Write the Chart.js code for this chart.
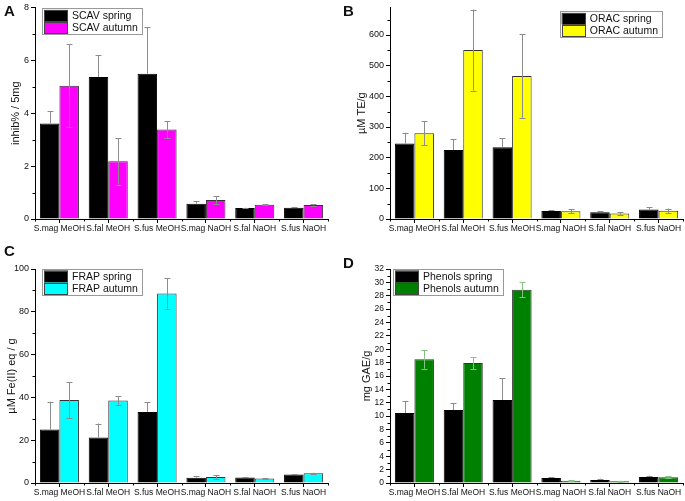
<!DOCTYPE html>
<html>
<head>
<meta charset="utf-8">
<script src="https://cdn.jsdelivr.net/npm/chart.js@4.4.1/dist/chart.umd.min.js"></script>
<style>
  html, body { margin: 0; padding: 0; background: #fff; }
  #wrap { position: relative; width: 685px; height: 501px; overflow: hidden; }
  canvas { position: absolute; }
  .letter { position: absolute; font: bold 15px Arial, "Liberation Sans", sans-serif; color: #111; }
</style>
</head>
<body>
<div id="wrap">
  <canvas id="cA" width="342" height="250" style="left:0;top:0"></canvas>
  <canvas id="cB" width="343" height="250" style="left:342px;top:0"></canvas>
  <canvas id="cC" width="342" height="251" style="left:0;top:250px"></canvas>
  <canvas id="cD" width="343" height="251" style="left:342px;top:250px"></canvas>
  <div class="letter" style="left:4px;top:2px">A</div>
  <div class="letter" style="left:343px;top:2px">B</div>
  <div class="letter" style="left:4px;top:242px">C</div>
  <div class="letter" style="left:343px;top:254px">D</div>
</div>
<script>
// categories shared by all four panels
const categories = ['S.mag MeOH', 'S.fal MeOH', 'S.fus MeOH', 'S.mag NaOH', 'S.fal NaOH', 'S.fus NaOH'];

// A - SCAV
const scavSpring = [3.61, 5.37, 5.49, 0.58, 0.42, 0.43];
const scavSpringErr = [0.46, 0.83, 1.76, 0.09, 0.01, 0.03];
const scavAutumn = [5.04, 2.18, 3.38, 0.72, 0.54, 0.53];
const scavAutumnErr = [1.56, 0.88, 0.32, 0.14, 0.02, 0.02];
const scavTicks = [0, 2, 4, 6, 8];

// B - ORAC
const oracSpring = [246, 225, 234, 26, 22, 31];
const oracSpringErr = [35, 35, 30, 2, 3, 7];
const oracAutumn = [280, 551, 466, 25, 18, 27];
const oracAutumnErr = [39, 132, 136, 7, 4, 7];
const oracTicks = [0, 100, 200, 300, 400, 500, 600];

// C - FRAP
const frapSpring = [25.0, 21.3, 33.2, 2.5, 2.6, 4.0];
const frapSpringErr = [13, 6.5, 4.5, 0.6, 0.1, 0.2];
const frapAutumn = [38.8, 38.6, 88.5, 2.8, 2.1, 4.5];
const frapAutumnErr = [8.4, 2.0, 7.2, 0.8, 0.3, 0.3];
const frapTicks = [0, 20, 40, 60, 80, 100];

// D - total phenols
const phenSpring = [10.45, 10.9, 12.4, 0.75, 0.45, 0.9];
const phenSpringErr = [1.75, 1.0, 3.3, 0.1, 0.2, 0.2];
const phenAutumn = [18.5, 17.95, 28.9, 0.35, 0.25, 0.85];
const phenAutumnErr = [1.4, 0.9, 1.15, 0.05, 0.1, 0.15];
const phenTicks = [0, 2, 4, 6, 8, 10, 12, 14, 16, 18, 20, 22, 24, 26, 28, 30, 32];

const FONT = 'Arial, "Liberation Sans", sans-serif';

// error bars, minor ticks and the boxed legend inside the plot
const decor = {
  id: 'decor',
  afterDatasetsDraw(chart) {
    const ctx = chart.ctx;
    const y = chart.scales.y;
    ctx.save();
    ctx.lineWidth = 1;
    chart.data.datasets.forEach((ds, i) => {
      const meta = chart.getDatasetMeta(i);
      meta.data.forEach((bar, j) => {
        const v = ds.data[j], e = ds.errors[j];
        const x = Math.round(bar.x) + 0.5;
        const top = y.getPixelForValue(v + e);
        const bot = ds.lowerErr ? y.getPixelForValue(v - e) : bar.y;
        ctx.strokeStyle = ds.errColor;
        ctx.beginPath();
        ctx.moveTo(x, bot);
        ctx.lineTo(x, top);
        ctx.moveTo(x - 3, Math.round(top) + 0.5);
        ctx.lineTo(x + 3, Math.round(top) + 0.5);
        if (ds.lowerErr) {
          ctx.moveTo(x - 3, Math.round(bot) + 0.5);
          ctx.lineTo(x + 3, Math.round(bot) + 0.5);
        }
        ctx.stroke();
      });
    });
    ctx.restore();
  },
  afterDraw(chart, args, opts) {
    const ctx = chart.ctx;
    const {x, y} = chart.scales;
    const area = chart.chartArea;
    ctx.save();
    ctx.strokeStyle = '#000';
    ctx.lineWidth = 1;
    ctx.beginPath();
    // minor y ticks halfway between the labelled ones
    const tv = opts.ticks;
    for (let i = 0; i < tv.length - 1; i++) {
      const py = Math.round(y.getPixelForValue((tv[i] + tv[i + 1]) / 2)) + 0.5;
      ctx.moveTo(area.left - 2.5, py);
      ctx.lineTo(area.left, py);
    }
    const last = tv[tv.length - 1] + (tv[1] - tv[0]) / 2;
    if (last < y.max) {
      const py = Math.round(y.getPixelForValue(last)) + 0.5;
      ctx.moveTo(area.left - 2.5, py);
      ctx.lineTo(area.left, py);
    }
    // minor x ticks at category boundaries
    const step = x.getPixelForValue(1) - x.getPixelForValue(0);
    for (let i = 0; i <= categories.length; i++) {
      const px = Math.round(x.getPixelForValue(0) - step / 2 + i * step) + 0.5;
      ctx.moveTo(px, area.bottom);
      ctx.lineTo(px, area.bottom + 2.5);
    }
    ctx.stroke();

    // legend box
    ctx.font = '10.5px ' + FONT;
    const labels = chart.data.datasets.map(d => d.label);
    const tw = Math.max(...labels.map(t => ctx.measureText(t).width));
    const w = 2 + 24 + 4 + tw + 4, h = 26;
    const x0 = opts.legendRight ? area.right - opts.legendDx - w : area.left + opts.legendDx;
    const y0 = area.top + opts.legendDy;
    ctx.fillStyle = '#fff';
    ctx.fillRect(x0, y0, w, h);
    ctx.strokeStyle = '#999';
    ctx.strokeRect(Math.round(x0) + 0.5, Math.round(y0) + 0.5, Math.round(w), h);
    chart.data.datasets.forEach((ds, i) => {
      const sy = y0 + 1.5 + i * 12;
      ctx.fillStyle = ds.backgroundColor;
      ctx.fillRect(x0 + 2, sy, 24, 11.5);
      ctx.strokeStyle = '#444';
      ctx.strokeRect(Math.round(x0 + 2) + 0.5, Math.round(sy) + 0.5, 23, 11);
      ctx.fillStyle = '#111';
      ctx.textBaseline = 'middle';
      ctx.fillText(ds.label, x0 + 30, sy + 6.5);
    });
    ctx.restore();
  }
};

function makePanel(id, cfg) {
  new Chart(document.getElementById(id), {
    type: 'bar',
    data: {
      labels: categories,
      datasets: [
        {
          label: cfg.names[0], data: cfg.spring, errors: cfg.springErr, lowerErr: false,
          errColor: '#8c8c8c', backgroundColor: '#000', borderColor: '#000', borderWidth: 1
        },
        {
          label: cfg.names[1], data: cfg.autumn, errors: cfg.autumnErr, lowerErr: true,
          errColor: cfg.errColor || '#8c8c8c', backgroundColor: cfg.color, borderColor: '#333', borderWidth: 1
        }
      ]
    },
    plugins: [decor],
    options: {
      responsive: false,
      animation: false,
      layout: { padding: cfg.pad },
      categoryPercentage: 0.8,
      barPercentage: 1.0,
      plugins: {
        legend: { display: false },
        tooltip: { enabled: false },
        decor: { ticks: cfg.ticks, legendRight: cfg.legendRight, legendDx: cfg.legendDx, legendDy: cfg.legendDy }
      },
      scales: {
        x: {
          offset: true,
          afterFit: s => { s.height = cfg.xh; },
          grid: { display: true, offset: false, drawOnChartArea: false, drawTicks: true, tickLength: 4, color: '#000' },
          border: { display: true, color: '#000', width: 1 },
          ticks: { autoSkip: false, maxRotation: 0, minRotation: 0, padding: 1, color: '#111', font: { family: FONT, size: 8.5 } }
        },
        y: {
          min: 0, max: cfg.max,
          afterFit: s => { s.width = cfg.yw; },
          afterBuildTicks: s => { s.ticks = cfg.ticks.map(v => ({ value: v })); },
          grid: { display: true, drawOnChartArea: false, drawTicks: true, tickLength: 4, color: '#000' },
          border: { display: true, color: '#000', width: 1 },
          ticks: { autoSkip: false, padding: 2, color: '#111', font: { family: FONT, size: cfg.tickSize || 9 } },
          title: { display: true, text: cfg.title, color: '#111', font: { family: FONT, size: 11 }, padding: { top: cfg.titlePad, bottom: 0 } }
        }
      }
    }
  });
}

makePanel('cA', {
  names: ['SCAV spring', 'SCAV autumn'], spring: scavSpring, springErr: scavSpringErr,
  autumn: scavAutumn, autumnErr: scavAutumnErr, color: '#ff00ff',
  max: 8, ticks: scavTicks, title: 'inhib% / 5mg', titlePad: 9,
  pad: { left: 0, top: 6, right: 14, bottom: 0 }, yw: 35, xh: 31,
  legendRight: false, legendDx: 7, legendDy: 1
});
makePanel('cB', {
  names: ['ORAC spring', 'ORAC autumn'], spring: oracSpring, springErr: oracSpringErr,
  autumn: oracAutumn, autumnErr: oracAutumnErr, color: '#ffff00',
  max: 690, ticks: oracTicks, title: 'µM TE/g', titlePad: 13,
  pad: { left: 0, top: 5, right: 2, bottom: 0 }, yw: 48, xh: 31,
  legendRight: true, legendDx: 21, legendDy: 4
});
makePanel('cC', {
  names: ['FRAP spring', 'FRAP autumn'], spring: frapSpring, springErr: frapSpringErr,
  autumn: frapAutumn, autumnErr: frapAutumnErr, color: '#00ffff',
  max: 100, ticks: frapTicks, title: 'µM Fe(II) eq / g', titlePad: 5,
  pad: { left: 0, top: 19, right: 14, bottom: 0 }, yw: 35, xh: 18,
  legendRight: false, legendDx: 7, legendDy: 0
});
makePanel('cD', {
  names: ['Phenols spring', 'Phenols autumn'], spring: phenSpring, springErr: phenSpringErr,
  autumn: phenAutumn, autumnErr: phenAutumnErr, color: '#008000', errColor: '#86c286',
  max: 32, ticks: phenTicks, title: 'mg GAE/g', titlePad: 18, tickSize: 8.5,
  pad: { left: 0, top: 19, right: 2, bottom: 0 }, yw: 48, xh: 18,
  legendRight: false, legendDx: 3, legendDy: 0
});
</script>
</body>
</html>
